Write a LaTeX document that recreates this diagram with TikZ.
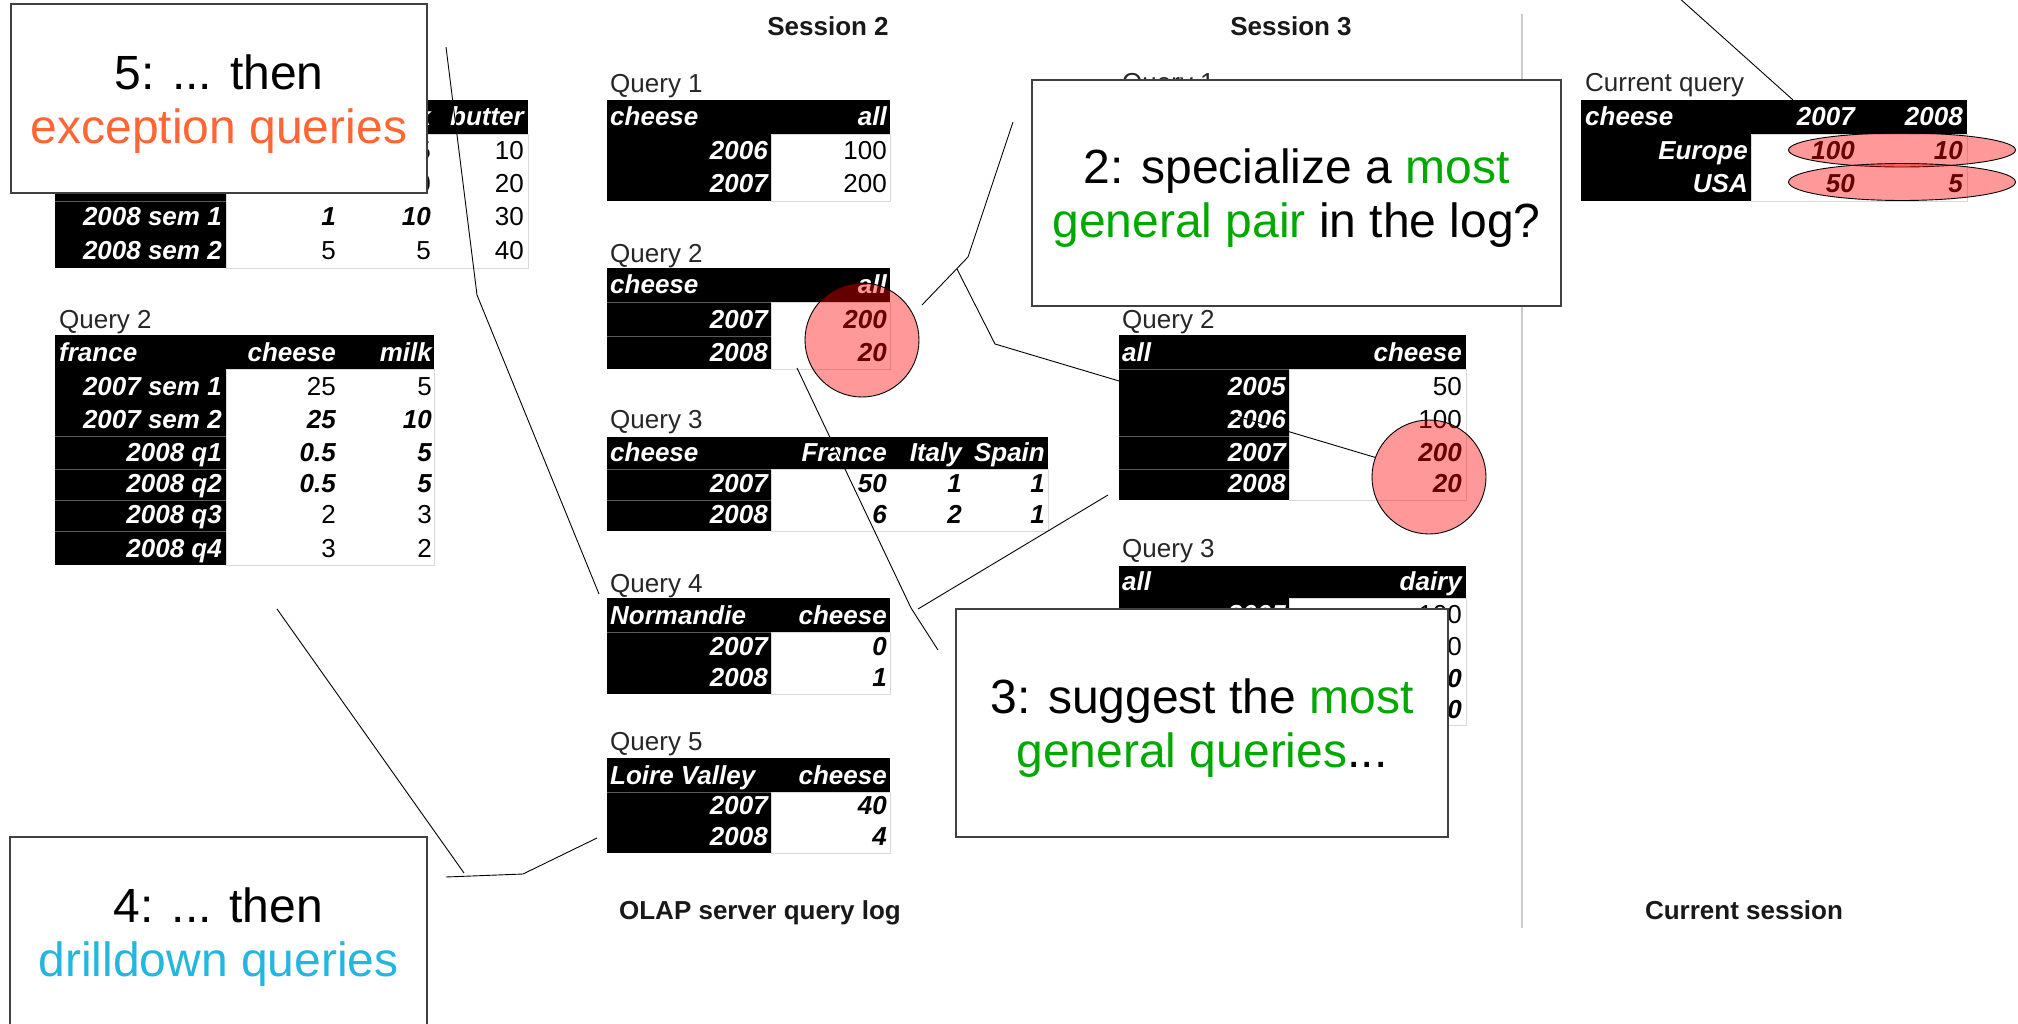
\documentclass[tikz,border=0pt]{standalone}
\usepackage{fontspec}
\setmainfont{Liberation Sans}
\usetikzlibrary{shapes.geometric}
\definecolor{tipgruen}{RGB}{0,168,0}
\definecolor{tiporange}{RGB}{255,102,51}
\definecolor{tipblau}{RGB}{36,182,222}

\begin{document}
\begin{tikzpicture}[x=1pt,y=-1pt,
		kopf/.style={font=\fontsize{26}{30}\selectfont\bfseries\itshape, text=white, inner sep=0pt, anchor=base east},
		wert/.style={font=\fontsize{26}{30}\selectfont, inner sep=0pt, anchor=base east},
		fett/.style={font=\fontsize{26}{30}\selectfont\bfseries\itshape, inner sep=0pt, anchor=base east},
		titel/.style={font=\fontsize{26}{30}\selectfont\bfseries, text=black!90, inner sep=0pt, anchor=base},
		abfrage/.style={font=\fontsize{26}{30}\selectfont, text=black!85, inner sep=0pt, anchor=base west},
		hinweis/.style={draw=black!75, line width=1.3pt, fill=white, align=center, inner sep=0pt, font=\fontsize{48}{54}\selectfont},
		markierung/.style={draw=black, line width=0.9pt, fill=red, fill opacity=0.4, inner sep=0pt},
		zeiger/.style={line width=0.9pt}]
		\useasboundingbox (0,0) rectangle (2018,1024);

		% Spaltenueberschriften und Trennlinie zur aktuellen Sitzung
		\node[titel] (sitzung2) at (828,36) {Session 2};
		\node[titel] (sitzung3) at (1291,36) {Session 3};
		\node[titel] (logtitel) at (760,919) {OLAP server query log};
		\node[titel] (aktuelltitel) at (1744,919) {Current session};
		\draw[black!20, line width=1.5pt] (1522,14) -- (1522,928);

		% Sitzung 1, Abfrage 1 (groesstenteils vom Hinweis 5 verdeckt)
		\fill (55,100) rectangle (528,134);
		\fill (55,134) rectangle (226,268);
		\draw[black!15] (226,134) rectangle (528,268);
		\draw[black!65] (55,201) -- (226,201);
		\begin{scope}
			\clip (428,100) rectangle (528,200);
			\node[kopf] (s1q1h3) at (431,126) {milk};
			\node[wert] (s1q1a3) at (431,160) {5};
			\node[wert] (s1q1b3) at (431,193) {10};
		\end{scope}
		\node[kopf] (s1q1h4) at (524,126) {butter};
		\node[wert] (s1q1a4) at (524,160) {10};
		\node[wert] (s1q1b4) at (524,193) {20};
		\node[kopf] (s1q1c1) at (222,226) {2008 sem 1};
		\node[fett] (s1q1c2) at (336,226) {1};
		\node[fett] (s1q1c3) at (431,226) {10};
		\node[wert] (s1q1c4) at (524,226) {30};
		\node[kopf] (s1q1d1) at (222,260) {2008 sem 2};
		\node[wert] (s1q1d2) at (336,260) {5};
		\node[wert] (s1q1d3) at (431,260) {5};
		\node[wert] (s1q1d4) at (524,260) {40};

		% Sitzung 1, Abfrage 2
		\node[abfrage] (s1q2) at (59,328) {Query 2};
		\fill (55,335) rectangle (434,369);
		\fill (55,369) rectangle (226,565);
		\draw[black!15] (226,369) rectangle (434,565);
		\draw[black!65] (55,436) -- (226,436) (55,469) -- (226,469) (55,500) -- (226,500) (55,531) -- (226,531);
		\node[kopf, anchor=base west] (s1q2h1) at (59,361) {france};
		\node[kopf] (s1q2h2) at (336,361) {cheese};
		\node[kopf] (s1q2h3) at (432,361) {milk};
		\node[kopf] (s1q2a1) at (222,395) {2007 sem 1};
		\node[wert] (s1q2a2) at (336,395) {25};
		\node[wert] (s1q2a3) at (432,395) {5};
		\node[kopf] (s1q2b1) at (222,428) {2007 sem 2};
		\node[fett] (s1q2b2) at (336,428) {25};
		\node[fett] (s1q2b3) at (432,428) {10};
		\node[kopf] (s1q2c1) at (222,461) {2008 q1};
		\node[fett] (s1q2c2) at (336,461) {0.5};
		\node[fett] (s1q2c3) at (432,461) {5};
		\node[kopf] (s1q2d1) at (222,492) {2008 q2};
		\node[fett] (s1q2d2) at (336,492) {0.5};
		\node[fett] (s1q2d3) at (432,492) {5};
		\node[kopf] (s1q2e1) at (222,523) {2008 q3};
		\node[wert] (s1q2e2) at (336,523) {2};
		\node[wert] (s1q2e3) at (432,523) {3};
		\node[kopf] (s1q2f1) at (222,557) {2008 q4};
		\node[wert] (s1q2f2) at (336,557) {3};
		\node[wert] (s1q2f3) at (432,557) {2};

		% Sitzung 2, Abfrage 1
		\node[abfrage] (s2q1) at (610,93) {Query 1};
		\fill (607,100) rectangle (890,134);
		\fill (607,134) rectangle (771,201);
		\draw[black!15] (771,134) rectangle (890,201);
		\node[kopf, anchor=base west] (s2q1h1) at (610,126) {cheese};
		\node[kopf] (s2q1h2) at (887,126) {all};
		\node[kopf] (s2q1a1) at (768,160) {2006};
		\node[wert] (s2q1a2) at (887,160) {100};
		\node[kopf] (s2q1b1) at (768,193) {2007};
		\node[wert] (s2q1b2) at (887,193) {200};

		% Sitzung 2, Abfrage 2
		\node[abfrage] (s2q2) at (610,263) {Query 2};
		\fill (607,268) rectangle (890,302);
		\fill (607,302) rectangle (771,369);
		\draw[black!15] (771,302) rectangle (890,369);
		\draw[black!65] (607,302) -- (771,302) (607,336) -- (771,336);
		\node[kopf, anchor=base west] (s2q2h1) at (610,294) {cheese};
		\node[kopf] (s2q2h2) at (887,294) {all};
		\node[kopf] (s2q2a1) at (768,328) {2007};
		\node[fett] (s2q2a2) at (887,328) {200};
		\node[kopf] (s2q2b1) at (768,361) {2008};
		\node[fett] (s2q2b2) at (887,361) {20};

		% Sitzung 2, Abfrage 3
		\node[abfrage] (s2q3) at (610,428) {Query 3};
		\fill (607,437) rectangle (1048,469);
		\fill (607,469) rectangle (771,531);
		\draw[black!15] (771,469) rectangle (1048,531);
		\draw[black!65] (607,469) -- (771,469) (607,500) -- (771,500);
		\node[kopf, anchor=base west] (s2q3h1) at (610,461) {cheese};
		\node[kopf] (s2q3h2) at (887,461) {France};
		\node[kopf] (s2q3h3) at (962,461) {Italy};
		\node[kopf] (s2q3h4) at (1045,461) {Spain};
		\node[kopf] (s2q3a1) at (768,492) {2007};
		\node[fett] (s2q3a2) at (887,492) {50};
		\node[fett] (s2q3a3) at (962,492) {1};
		\node[fett] (s2q3a4) at (1045,492) {1};
		\node[kopf] (s2q3b1) at (768,523) {2008};
		\node[fett] (s2q3b2) at (887,523) {6};
		\node[fett] (s2q3b3) at (962,523) {2};
		\node[fett] (s2q3b4) at (1045,523) {1};

		% Sitzung 2, Abfrage 4
		\node[abfrage] (s2q4) at (610,592) {Query 4};
		\fill (607,598) rectangle (890,632);
		\fill (607,632) rectangle (771,694);
		\draw[black!15] (771,632) rectangle (890,694);
		\draw[black!65] (607,632) -- (771,632);
		\node[kopf, anchor=base west] (s2q4h1) at (610,624) {Normandie};
		\node[kopf] (s2q4h2) at (887,624) {cheese};
		\node[kopf] (s2q4a1) at (768,655) {2007};
		\node[fett] (s2q4a2) at (887,655) {0};
		\node[kopf] (s2q4b1) at (768,686) {2008};
		\node[fett] (s2q4b2) at (887,686) {1};

		% Sitzung 2, Abfrage 5
		\node[abfrage] (s2q5) at (610,750) {Query 5};
		\fill (607,758) rectangle (890,792);
		\fill (607,792) rectangle (771,853);
		\draw[black!15] (771,792) rectangle (890,853);
		\draw[black!65] (607,792) -- (771,792);
		\node[kopf, anchor=base west] (s2q5h1) at (610,784) {Loire Valley};
		\node[kopf] (s2q5h2) at (887,784) {cheese};
		\node[kopf] (s2q5a1) at (768,814) {2007};
		\node[fett] (s2q5a2) at (887,814) {40};
		\node[kopf] (s2q5b1) at (768,845) {2008};
		\node[fett] (s2q5b2) at (887,845) {4};

		% Sitzung 3, Abfrage 1 (vom Hinweis 2 verdeckt)
		\node[abfrage] (s3q1) at (1122,92) {Query 1};

		% Sitzung 3, Abfrage 2
		\node[abfrage] (s3q2) at (1122,328) {Query 2};
		\fill (1119,335) rectangle (1466,369);
		\fill (1119,369) rectangle (1289,500);
		\draw[black!15] (1289,369) rectangle (1466,500);
		\draw[black!65] (1119,369) -- (1289,369) (1119,436) -- (1289,436) (1119,469) -- (1289,469);
		\node[kopf, anchor=base west] (s3q2h1) at (1122,361) {all};
		\node[kopf] (s3q2h2) at (1462,361) {cheese};
		\node[kopf] (s3q2a1) at (1286,395) {2005};
		\node[wert] (s3q2a2) at (1462,395) {50};
		\node[kopf] (s3q2b1) at (1286,428) {2006};
		\node[wert] (s3q2b2) at (1462,428) {100};
		\node[kopf] (s3q2c1) at (1286,461) {2007};
		\node[fett] (s3q2c2) at (1462,461) {200};
		\node[kopf] (s3q2d1) at (1286,492) {2008};
		\node[fett] (s3q2d2) at (1462,492) {20};

		% Sitzung 3, Abfrage 3 (teilweise vom Hinweis 3 verdeckt)
		\node[abfrage] (s3q3) at (1122,557) {Query 3};
		\fill (1119,566) rectangle (1466,598);
		\fill (1119,598) rectangle (1289,725);
		\draw[black!15] (1289,598) rectangle (1466,725);
		\node[kopf, anchor=base west] (s3q3h1) at (1122,590) {all};
		\node[kopf] (s3q3h2) at (1462,590) {dairy};
		\node[kopf] (s3q3a1) at (1286,623) {2005};
		\node[wert] (s3q3a2) at (1462,623) {100};
		\node[wert] (s3q3b2) at (1462,655) {200};
		\node[fett] (s3q3c2) at (1462,687) {400};
		\node[fett] (s3q3d2) at (1462,718) {40};

		% aktuelle Abfrage
		\node[abfrage] (aktuell) at (1585,92) {Current query};
		\fill (1581,100) rectangle (1967,134);
		\fill (1581,134) rectangle (1751,201);
		\draw[black!15] (1751,134) rectangle (1967,201);
		\node[kopf, anchor=base west] (akth1) at (1585,126) {cheese};
		\node[kopf] (akth2) at (1855,126) {2007};
		\node[kopf] (akth3) at (1963,126) {2008};
		\node[kopf] (akta1) at (1748,160) {Europe};
		\node[fett] (akta2) at (1855,160) {100};
		\node[fett] (akta3) at (1963,160) {10};
		\node[kopf] (aktb1) at (1748,193) {USA};
		\node[fett] (aktb2) at (1855,193) {50};
		\node[fett] (aktb3) at (1963,193) {5};

		% rote Markierungen (halbdurchsichtig ueber den Werten)
		\node[markierung, circle, minimum size=114] (kreisA) at (862,340) {};
		\node[markierung, circle, minimum size=114] (kreisB) at (1429,477) {};
		\node[markierung, ellipse, minimum width=227, minimum height=34] (ovalEU) at (1902,150) {};
		\node[markierung, ellipse, minimum width=227, minimum height=37] (ovalUS) at (1902,182) {};

		% Zeiger der Hinweise
		\coordinate (k1a) at (1793,100);
		\coordinate (k1b) at (1678,-3);
		\coordinate (k2a) at (1013,122);
		\coordinate (k2b) at (968,257);
		\coordinate (k2c) at (922,305);
		\coordinate (k2d) at (957,269);
		\coordinate (k2e) at (995,344);
		\coordinate (k3a) at (938,650);
		\coordinate (k3b) at (911,608);
		\coordinate (k3c) at (797,368);
		\coordinate (k3d) at (918,609);
		\coordinate (k3e) at (1108,495);
		\coordinate (k4a) at (277,609);
		\coordinate (k4b) at (464,873);
		\coordinate (k4c) at (446,877);
		\coordinate (k4d) at (523,874);
		\coordinate (k4e) at (597,838);
		\coordinate (k5a) at (446,47);
		\coordinate (k5b) at (477,295);
		\coordinate (k5c) at (599,594);
		\draw[zeiger] (k1a) -- (k1b);
		\draw[zeiger] (k2a) -- (k2b) -- (k2c);
		\draw[zeiger] (k2d) -- (k2e) -- (kreisB.160);
		\draw[zeiger] (k3a) -- (k3b) -- (k3c);
		\draw[zeiger] (k3d) -- (k3e);
		\draw[zeiger] (k4a) -- (k4b);
		\draw[zeiger] (k4c) -- (k4d) -- (k4e);
		\draw[zeiger] (k5a) -- (k5b) -- (k5c);

		% Hinweiskaesten liegen ueber allem (Strebe schiebt den Text etwas nach unten)
		\node[hinweis, minimum width=416, minimum height=189] (tipp5) at (219,98.5) {\rule{0pt}{45pt}5: ... then\\\textcolor{tiporange}{exception queries}};
		\node[hinweis, minimum width=529, minimum height=226] (tipp2) at (1296.5,193) {\rule{0pt}{45pt}2: specialize a \textcolor{tipgruen}{most}\\\textcolor{tipgruen}{general pair} in the log?};
		\node[hinweis, minimum width=492, minimum height=228] (tipp3) at (1202,723) {\rule{0pt}{45pt}3: suggest the \textcolor{tipgruen}{most}\\\textcolor{tipgruen}{general queries}...};
		\node[hinweis, minimum width=417, minimum height=190] (tipp4) at (218.5,932) {\rule{0pt}{45pt}4: ... then\\\textcolor{tipblau}{drilldown queries}};
	\end{tikzpicture}
\end{document}
